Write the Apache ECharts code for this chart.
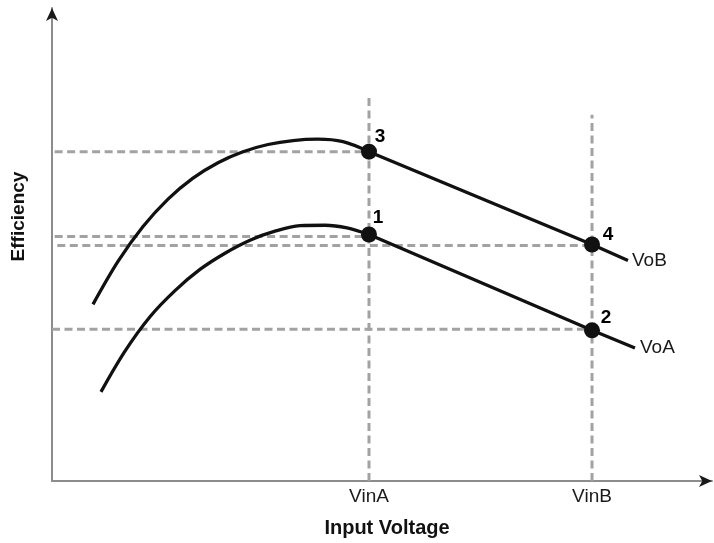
<!DOCTYPE html>
<html>
<head>
<meta charset="utf-8">
<script src="https://cdn.jsdelivr.net/npm/echarts@6/dist/echarts.min.js"></script>
<style>
html,body{margin:0;padding:0;background:#fff;}
#chart{width:714px;height:543px;}
</style>
</head>
<body>
<div id="chart"></div>
<script>
// ---- data ----
const vinA = 48.03;
const vinB = 81.82;
const xTickValues = [vinA, vinB];
const xTickLabels = ['VinA', 'VinB'];

// VoB: curved part up to point 3, then straight segment
const vobCurveX = [6.21, 10.00, 13.79, 17.58, 21.36, 25.15, 28.94, 32.73, 36.52, 40.30, 44.09, 48.03];
const vobCurveY = [37.34, 46.41, 53.80, 59.60, 64.03, 67.30, 69.62, 71.14, 71.98, 72.26, 71.73, 69.62];
const vobLineX = [48.03, 81.82, 87.27];
const vobLineY = [69.62, 50.00, 46.60];

// VoA
const voaCurveX = [7.42, 11.06, 14.85, 18.64, 22.42, 26.21, 30.00, 33.79, 37.58, 41.36, 44.70, 48.03];
const voaCurveY = [18.84, 27.45, 34.73, 40.25, 44.73, 48.16, 50.91, 52.81, 53.97, 54.07, 53.52, 52.11];
const voaLineX = [48.03, 81.82, 88.33];
const voaLineY = [52.11, 31.86, 28.10];

// operating points
const pointNames = ['3', '1', '4', '2'];
const pointX = [48.03, 48.03, 81.82, 81.82];
const pointY = [69.62, 52.11, 50.00, 31.86];

// dashed guide lines
const hGuideY = [69.62, 51.70, 49.79, 32.07];
const hGuideX0 = [0.4, 0.4, 0.8, 0.0];
const hGuideX1 = [48.03, 48.03, 81.82, 81.82];
const vGuideX = [vinA, vinB];
const vGuideTop = [81.43, 77.43];

// ---- build options ----
const zip = (xs, ys) => xs.map((x, i) => [x, ys[i]]);
const FONT = '"Liberation Sans", Arial, Helvetica, sans-serif';
const dashStyle = { color: '#a2a2a2', width: 3, type: [8, 4.5] };
const curveStyle = { color: '#111', width: 3.3 };

const series = [];
hGuideY.forEach((y, i) => {
  series.push({ type: 'line', data: [[hGuideX0[i], y], [hGuideX1[i], y]], symbol: 'none',
    lineStyle: dashStyle, silent: true, z: 1, animation: false });
});
vGuideX.forEach((x, i) => {
  series.push({ type: 'line', data: [[x, 0], [x, vGuideTop[i]]], symbol: 'none',
    lineStyle: dashStyle, silent: true, z: 1, animation: false });
});
series.push({ type: 'line', name: 'VoB curve', data: zip(vobCurveX, vobCurveY), smooth: 0.33,
  symbol: 'none', lineStyle: curveStyle, z: 3, animation: false });
series.push({ type: 'line', name: 'VoB', data: zip(vobLineX, vobLineY), smooth: false,
  symbol: 'none', lineStyle: curveStyle, z: 3, animation: false,
  endLabel: { show: true, formatter: '{a}', distance: 4, fontSize: 19, color: '#1a1a1a', fontFamily: FONT } });
series.push({ type: 'line', name: 'VoA curve', data: zip(voaCurveX, voaCurveY), smooth: 0.33,
  symbol: 'none', lineStyle: curveStyle, z: 3, animation: false });
series.push({ type: 'line', name: 'VoA', data: zip(voaLineX, voaLineY), smooth: false,
  symbol: 'none', lineStyle: curveStyle, z: 3, animation: false,
  endLabel: { show: true, formatter: '{a}', distance: 5, fontSize: 19, color: '#1a1a1a', fontFamily: FONT } });

const labelShift = [[11, -15], [9, -17], [16, -10], [14, -13]];
series.push({
  type: 'scatter', symbolSize: 16, itemStyle: { color: '#111', opacity: 1 }, z: 5, animation: false,
  data: pointNames.map((n, i) => ({
    name: n, value: [pointX[i], pointY[i]],
    label: { show: true, formatter: '{b}', position: [8 + labelShift[i][0], 8 + labelShift[i][1]],
      align: 'center', verticalAlign: 'middle', fontSize: 19, fontWeight: 'bold', color: '#000', opacity: 1, fontFamily: FONT }
  }))
});

// overlay axes that only contribute the black arrow heads
const arrowAxis = {
  type: 'value', min: 0, max: 100, silent: true,
  splitLine: { show: false }, axisTick: { show: false }, axisLabel: { show: false },
  axisLine: { show: true, symbol: ['none', 'arrow'], symbolSize: [9, 13],
    lineStyle: { color: '#1a1a1a', width: 0.001 } }
};

const option = {
  backgroundColor: '#fff',
  animation: false,
  grid: { left: 52, right: 2, top: 8, bottom: 60, containLabel: false },
  xAxis: [{
    type: 'value', min: 0, max: 100,
    splitLine: { show: false },
    axisTick: { show: false },
    axisLine: { show: true, symbol: ['none', 'none'],
      lineStyle: { color: '#8c8c8c', width: 2 } },
    axisLabel: {
      customValues: xTickValues,
      formatter: v => { const i = xTickValues.findIndex(t => Math.abs(t - v) < 1e-6); return i >= 0 ? xTickLabels[i] : ''; },
      margin: 6, fontSize: 19, color: '#1a1a1a', fontFamily: FONT
    },
    name: 'Input Voltage', nameLocation: 'middle', nameGap: 37,
    nameTextStyle: { fontSize: 20, fontWeight: 'bold', color: '#111', fontFamily: FONT, padding: [0, 0, 0, 10] }
  }, Object.assign({ position: 'bottom', offset: 0 }, arrowAxis)],
  yAxis: [{
    type: 'value', min: 0, max: 100,
    splitLine: { show: false },
    axisTick: { show: false },
    axisLabel: { show: false },
    axisLine: { show: true, symbol: ['none', 'none'],
      lineStyle: { color: '#8c8c8c', width: 2 } },
    name: 'Efficiency', nameLocation: 'middle', nameGap: 24, nameRotate: 90,
    nameTextStyle: { fontSize: 19, fontWeight: 'bold', color: '#111', fontFamily: FONT, padding: [0, 0, 0, 56] }
  }, Object.assign({ position: 'left', offset: 0 }, arrowAxis)],
  series: series
};

const chart = echarts.init(document.getElementById('chart'), null, { renderer: 'canvas' });
chart.setOption(option);
</script>
</body>
</html>
